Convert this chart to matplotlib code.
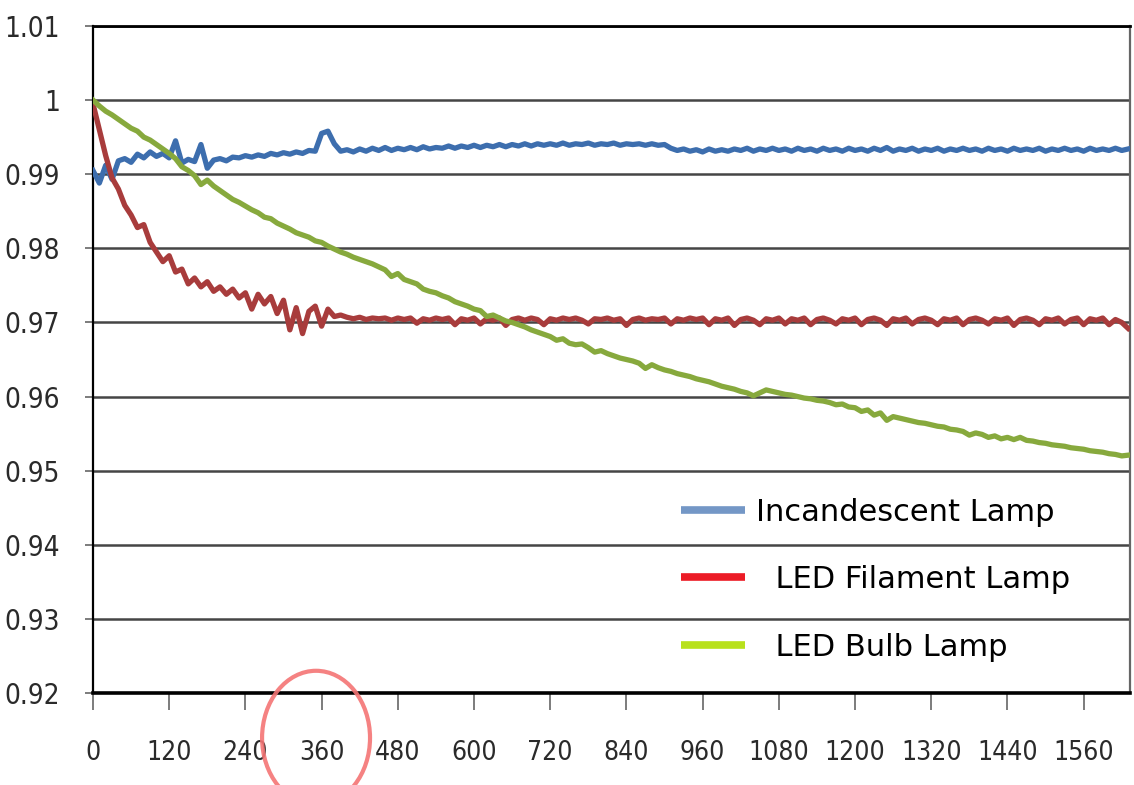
"""
Relative luminous flux over time for three lamp types.
"""

import numpy as np
import matplotlib
matplotlib.use("Agg")
import matplotlib.pyplot as plt
from matplotlib import font_manager
from matplotlib.lines import Line2D
from matplotlib.patches import Ellipse

# ── Data (one sample every 10 min) ──────────────────────────────────────────

minutes = np.arange(0, 1640, 10)

incandescent = [
    0.9905, 0.9888, 0.9912, 0.9893, 0.9918, 0.9921, 0.9916, 0.9927, 0.9922, 0.9930,
    0.9924, 0.9928, 0.9922, 0.9945, 0.9915, 0.9920, 0.9917, 0.9940, 0.9908, 0.9919,
    0.9921, 0.9918, 0.9923, 0.9922, 0.9925, 0.9923, 0.9926, 0.9924, 0.9928, 0.9926,
    0.9929, 0.9927, 0.9930, 0.9928, 0.9932, 0.9931, 0.9955, 0.9958, 0.9941, 0.9931,
    0.9933, 0.9930, 0.9934, 0.9931, 0.9935, 0.9932, 0.9936, 0.9932, 0.9935, 0.9933,
    0.9936, 0.9933, 0.9937, 0.9934, 0.9936, 0.9935, 0.9938, 0.9935, 0.9938, 0.9936,
    0.9939, 0.9936, 0.9939, 0.9937, 0.9940, 0.9937, 0.9940, 0.9938, 0.9941, 0.9938,
    0.9941, 0.9939, 0.9941, 0.9939, 0.9942, 0.9939, 0.9941, 0.9940, 0.9942, 0.9939,
    0.9941, 0.9940, 0.9942, 0.9939, 0.9941, 0.9940, 0.9941, 0.9939, 0.9941, 0.9939,
    0.9940, 0.9935, 0.9932, 0.9934, 0.9931, 0.9933, 0.9930, 0.9934, 0.9931, 0.9933,
    0.9931, 0.9934, 0.9932, 0.9935, 0.9931, 0.9934, 0.9932, 0.9935, 0.9932, 0.9934,
    0.9931, 0.9935, 0.9932, 0.9934, 0.9931, 0.9935, 0.9932, 0.9934, 0.9931, 0.9935,
    0.9932, 0.9934, 0.9931, 0.9935, 0.9932, 0.9936, 0.9931, 0.9934, 0.9932, 0.9935,
    0.9931, 0.9934, 0.9932, 0.9935, 0.9931, 0.9934, 0.9932, 0.9935, 0.9932, 0.9934,
    0.9931, 0.9935, 0.9932, 0.9934, 0.9931, 0.9935, 0.9932, 0.9934, 0.9932, 0.9935,
    0.9931, 0.9934, 0.9932, 0.9935, 0.9932, 0.9934, 0.9931, 0.9935, 0.9932, 0.9934,
    0.9932, 0.9935, 0.9932, 0.9934,
]

led_filament = [
    0.9995, 0.9960, 0.9925, 0.9895, 0.9880, 0.9858, 0.9845, 0.9828, 0.9832, 0.9808,
    0.9795, 0.9782, 0.9790, 0.9768, 0.9772, 0.9752, 0.9760, 0.9748, 0.9755, 0.9742,
    0.9748, 0.9738, 0.9745, 0.9733, 0.9740, 0.9718, 0.9738, 0.9725, 0.9735, 0.9712,
    0.9730, 0.9690, 0.9720, 0.9685, 0.9715, 0.9722, 0.9695, 0.9718, 0.9708, 0.9710,
    0.9707, 0.9705, 0.9707, 0.9704, 0.9706, 0.9705, 0.9706, 0.9703, 0.9706, 0.9704,
    0.9706, 0.9699, 0.9705, 0.9703, 0.9706, 0.9704, 0.9706, 0.9697, 0.9705, 0.9703,
    0.9706, 0.9698, 0.9705, 0.9703, 0.9706, 0.9696, 0.9704, 0.9706, 0.9703, 0.9706,
    0.9704, 0.9697, 0.9705, 0.9703, 0.9706, 0.9704, 0.9706, 0.9703, 0.9698, 0.9705,
    0.9704, 0.9706, 0.9703, 0.9705, 0.9696, 0.9704, 0.9706, 0.9703, 0.9705, 0.9704,
    0.9706, 0.9698, 0.9705, 0.9703, 0.9706, 0.9704, 0.9706, 0.9697, 0.9705, 0.9703,
    0.9706, 0.9696, 0.9704, 0.9706, 0.9703, 0.9697, 0.9705, 0.9703, 0.9706, 0.9698,
    0.9705, 0.9703, 0.9706, 0.9697, 0.9704, 0.9706, 0.9703, 0.9698, 0.9705, 0.9703,
    0.9706, 0.9697, 0.9704, 0.9706, 0.9703, 0.9696, 0.9705, 0.9703, 0.9706, 0.9698,
    0.9704, 0.9706, 0.9703, 0.9697, 0.9705, 0.9703, 0.9706, 0.9697, 0.9704, 0.9706,
    0.9703, 0.9698, 0.9705, 0.9703, 0.9706, 0.9696, 0.9704, 0.9706, 0.9703, 0.9697,
    0.9705, 0.9703, 0.9706, 0.9698, 0.9704, 0.9706, 0.9697, 0.9705, 0.9703, 0.9706,
    0.9697, 0.9704, 0.9700, 0.9692,
]

led_bulb = [
    1.0000, 0.9992, 0.9985, 0.9980, 0.9974, 0.9968, 0.9962, 0.9958, 0.9950, 0.9946,
    0.9940, 0.9934, 0.9928, 0.9921, 0.9910, 0.9905, 0.9898, 0.9886, 0.9892, 0.9884,
    0.9878, 0.9872, 0.9866, 0.9862, 0.9857, 0.9852, 0.9848, 0.9842, 0.9840, 0.9834,
    0.9830, 0.9826, 0.9821, 0.9818, 0.9815, 0.9810, 0.9808, 0.9803, 0.9799, 0.9795,
    0.9792, 0.9788, 0.9785, 0.9782, 0.9779, 0.9775, 0.9771, 0.9762, 0.9766, 0.9758,
    0.9755, 0.9752, 0.9745, 0.9742, 0.9740, 0.9736, 0.9733, 0.9728, 0.9725, 0.9722,
    0.9718, 0.9716, 0.9708, 0.9710, 0.9706, 0.9702, 0.9700, 0.9697, 0.9694, 0.9690,
    0.9687, 0.9684, 0.9681, 0.9676, 0.9678, 0.9672, 0.9670, 0.9671, 0.9666, 0.9660,
    0.9662, 0.9658, 0.9655, 0.9652, 0.9650, 0.9648, 0.9645, 0.9638, 0.9643, 0.9639,
    0.9636, 0.9634, 0.9631, 0.9629, 0.9627, 0.9624, 0.9622, 0.9620, 0.9617, 0.9614,
    0.9612, 0.9610, 0.9607, 0.9605, 0.9601, 0.9605, 0.9609, 0.9607, 0.9605, 0.9603,
    0.9602, 0.9600, 0.9598, 0.9597, 0.9595, 0.9594, 0.9592, 0.9589, 0.9590, 0.9586,
    0.9585, 0.9580, 0.9582, 0.9575, 0.9578, 0.9568, 0.9573, 0.9571, 0.9569, 0.9567,
    0.9565, 0.9564, 0.9562, 0.9560, 0.9559, 0.9556, 0.9555, 0.9553, 0.9548, 0.9551,
    0.9549, 0.9545, 0.9547, 0.9543, 0.9545, 0.9542, 0.9545, 0.9541, 0.9540, 0.9538,
    0.9537, 0.9535, 0.9534, 0.9533, 0.9531, 0.9530, 0.9529, 0.9527, 0.9526, 0.9525,
    0.9523, 0.9522, 0.9520, 0.9521,
]

x_ticks = list(range(0, 1680, 120))
y_ticks = [0.92, 0.93, 0.94, 0.95, 0.96, 0.97, 0.98, 0.99, 1.00, 1.01]
y_ticklabels = ["0.92", "0.93", "0.94", "0.95", "0.96", "0.97", "0.98", "0.99", "1", "1.01"]

labels = ["Incandescent Lamp", "  LED Filament Lamp", "  LED Bulb Lamp"]
line_colors = ["#3d6eae", "#a83c3c", "#87a93d"]
legend_colors = ["#7497c6", "#ec1c26", "#b8e11c"]

# ── Fonts: the tick labels are narrow, look for a condensed face ────────────

narrow = None
for f in font_manager.fontManager.ttflist:
    if "Narrow" in f.name or "Condensed" in f.name or f.stretch in ("condensed", "semi-condensed"):
        if f.style == "normal" and f.weight in (400, "normal", "regular"):
            narrow = f
            break

if narrow is not None:
    tick_prop = font_manager.FontProperties(fname=narrow.fname, size=20)
    xtick_prop = font_manager.FontProperties(fname=narrow.fname, size=19)
else:
    tick_prop = font_manager.FontProperties(family="Roboto", size=18)
    xtick_prop = font_manager.FontProperties(family="Roboto", size=16.5)

# ── Figure ──────────────────────────────────────────────────────────────────

fig = plt.figure(figsize=(11.34, 7.85), dpi=100)
ax = fig.add_axes([0.082, 0.117, 0.9145, 0.850])

series = [incandescent, led_filament, led_bulb]
for vals, col in zip(series, line_colors):
    ax.plot(minutes, vals, color=col, lw=3.8, solid_joinstyle="round", zorder=3)

ax.set_xlim(0, 1633)
ax.set_ylim(0.92, 1.01)
ax.set_xticks(x_ticks)
ax.set_yticks(y_ticks)
ax.set_yticklabels(y_ticklabels)

ax.yaxis.grid(True, color="#454545", lw=1.8)
ax.set_axisbelow(True)

for side in ["left", "top", "bottom"]:
    ax.spines[side].set_color("black")
ax.spines["left"].set_linewidth(1.6)
ax.spines["top"].set_linewidth(2.0)
ax.spines["bottom"].set_linewidth(2.6)
ax.spines["right"].set_color("#666666")
ax.spines["right"].set_linewidth(1.6)

ax.tick_params(axis="x", direction="out", length=12, width=1.2, color="#666666",
               pad=22, labelcolor="#2a2a2a")
ax.tick_params(axis="y", direction="out", length=6, width=1.2, color="#666666",
               pad=18, labelcolor="#2a2a2a")
for lab in ax.get_xticklabels():
    lab.set_fontproperties(xtick_prop)
for lab in ax.get_yticklabels():
    lab.set_fontproperties(tick_prop)

handles = [Line2D([], [], color=c, lw=5.5, solid_capstyle="butt") for c in legend_colors]
ax.legend(handles, labels, loc="upper left", bbox_to_anchor=(0.567, 0.293),
          frameon=False, fontsize=22, handlelength=2.1, handletextpad=0.35,
          labelspacing=1.26, borderpad=0, borderaxespad=0)

# red circle drawn around the 360 label
fig.patches.append(Ellipse((0.2787, 0.060), 0.0952, 0.171, transform=fig.transFigure,
                           fill=False, edgecolor="#f47474", lw=3.0, alpha=0.9))

fig.savefig("out.png", dpi=100)
